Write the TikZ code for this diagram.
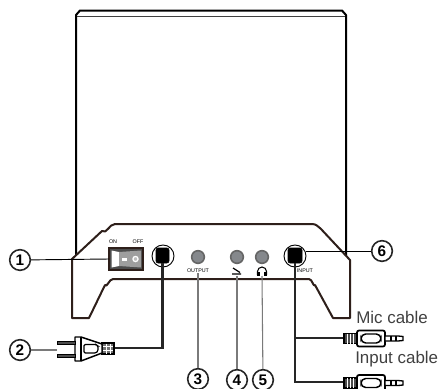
\documentclass[tikz,border=0pt]{standalone}
\usepackage{fontspec}
\setmainfont{Liberation Sans}
\usepackage{tikz}
\usetikzlibrary{calc}
\definecolor{basebrown}{HTML}{2E1F1A}
\definecolor{jackgray}{HTML}{85888C}
\definecolor{leadgray}{HTML}{7A7A7A}
\tikzset{
  callout/.style={draw=black!85,circle,line width=1.2pt,minimum size=15.5pt,inner sep=0pt,fill=white,font=\bfseries\fontsize{11.5}{12}\selectfont},
  lead/.style={line width=.8pt,leadgray},
  leadblack/.style={line width=.7pt,black},
  jack/.style={circle,draw=black!60,fill=jackgray,line width=1.2pt,minimum size=9.5pt,inner sep=0pt},
  socket/.style={circle,draw=black,fill=white,line width=.7pt,minimum size=16.5pt,inner sep=0pt},
  tiny/.style={inner sep=0pt,font=\fontsize{4}{4}\selectfont},
  cable/.style={line width=2pt,black!85},
  basedraw/.style={line width=1.5pt,basebrown},
  captiontext/.style={inner sep=0pt,anchor=west,black!75,font=\fontsize{12.7}{13}\selectfont}
}
\begin{document}
\begin{tikzpicture}[x=.75pt,y=-.75pt]
    \useasboundingbox (0,0) rectangle (439,389);
    % cabinet
    \draw[line width=1.5pt,line join=round] (76,257) -- (76,15) -- (80,10.5) -- (342,10.5) -- (346,15) -- (346,256);
    \draw[line width=.8pt,black!75] (77,16.5) -- (345,16.5);
    % base
    \draw[basedraw,line join=round,fill=white] (72,318) -- (72,259) -- (102,231) to[out=-40,in=180] (115,224) -- (312,224) to[out=0,in=140] (321,229) -- (350,260) -- (350,318) -- (333,318) -- (315,285) to[out=-115,in=0] (309,279) -- (113,279) to[out=180,in=-65] (105,285) -- (89,318) -- cycle;
    % switch
    \node[tiny] (on) at (113,242) {ON};
    \node[tiny] (off) at (138,242) {OFF};
    \draw[line width=1.5pt,basebrown,fill=black!70] (109,248) rectangle (143,270);
    \coordinate (swleft) at (109,259);
    \fill[white] (111.5,250.5) -- (119,252) -- (119,266) -- (111.5,267.5) -- cycle;
    \fill[black!38] (119,252) -- (141,250.5) -- (141,267.5) -- (119,266) -- cycle;
    \fill[white] (122,258) rectangle (127,260.5);
    \draw[white,line width=.9pt,fill=black!25] (135.5,259) circle[radius=2.6];
    % sockets
    \node[socket] (inlet) at (163,256) {};
    \draw[black,fill=black,rounded corners=1.5pt] (156,248) rectangle (169,263);
    \node[socket] (input) at (295,256) {};
    \draw[black,fill=black,rounded corners=1.5pt] (288,248) rectangle (302,263);
    % jacks
    \node[jack] (output) at (198,257) {};
    \node[jack] (mic) at (237,257) {};
    \node[jack] (phones) at (262,257) {};
    \node[tiny] (outputlabel) at (198,271) {OUTPUT};
    \node[tiny] (inputlabel) at (305,271) {INPUT};
    % mic and headphone signs
    \coordinate (micsign) at (237,276);
    \coordinate (phonesign) at (262,276);
    \draw[line width=.9pt,black] (233,268) -- (240,272.5) (232,274) -- (241,274);
    \draw[line width=.8pt,black] (257.5,275) -- (257.5,271.5) arc[start angle=180,end angle=360,radius=4.5] -- (266.5,275);
    \draw[line width=1.8pt,black] (258.5,272) -- (258.5,276) (265.5,272) -- (265.5,276);
    % power plug
    \coordinate (powerend) at (114,348);
    \draw[cable] (162.5,263) |- (powerend);
    \draw[line width=1.1pt,fill=black!55] (102,343) rectangle (114,354);
    \draw[line width=.5pt,white] (103,346.5) -- (113,346.5) (103,350) -- (113,350) (106,343.5) -- (106,353.5) (110,343.5) -- (110,353.5);
    \draw[line width=1.1pt,line join=round,fill=white] (75,337) -- (81,337) -- (102,344) -- (102,353) -- (81,361) -- (75,361) -- cycle;
    \draw[line width=.9pt] (81,337) -- (81,361);
    \draw[line width=.9pt,fill=white,rounded corners=1pt] (84,344.5) -- (96,344.5) -- (98,346) -- (98,351) -- (96,353) -- (84,353) -- cycle;
    \draw[line width=.6pt,fill=black!70] (57,341) rectangle (75,344.5);
    \draw[line width=.6pt,fill=black!70] (57,354) rectangle (75,357.5);
    \coordinate (prongs) at (57,350);
    % input cables
    \coordinate (micplug) at (344,338);
    \coordinate (inputplug) at (344,382);
    \draw[cable] (295,263) |- (inputplug);
    \draw[cable] (295,338) -- (micplug);
    \foreach \yy in {338.5,383}{
      \draw[line width=.9pt,fill=black!70] (344,\yy-5) rectangle (357,\yy+5);
      \foreach \xx in {347,350,353}
        \draw[white,line width=.4pt] (\xx,\yy-5) -- (\xx,\yy+5);
      \draw[line width=1.3pt,fill=white,rounded corners=1.5pt] (357,\yy-8) rectangle (385,\yy+8);
      \draw[line width=1.1pt,rounded corners=3.5pt] (361,\yy-4.5) rectangle (381,\yy+4.5);
      \draw[line width=1pt,fill=white] (385,\yy-2.5) -- (398,\yy-2.5) -- (403,\yy-2) -- (403,\yy+2) -- (398,\yy+2.5) -- (385,\yy+2.5) -- cycle;
      \draw[line width=1pt] (391,\yy-2.5) -- (391,\yy+2.5) (396,\yy-2.5) -- (396,\yy+2.5);
    }
    \node[captiontext] (miccaption) at (356,317) {Mic cable};
    \node[captiontext] (inputcaption) at (355,359.5) {Input cable};
    % callouts
    \node[callout] (n1) at (20,260) {1};
    \node[callout] (n2) at (20,350) {2};
    \node[callout] (n3) at (198,379) {3};
    \node[callout] (n4) at (237,380) {4};
    \node[callout] (n5) at (263,380) {5};
    \node[callout] (n6) at (382,251) {6};
    \draw[leadblack] (n1) -- (swleft);
    \draw[lead] (n2) -- (prongs);
    \draw[lead] (n3) -- (outputlabel);
    \draw[lead] (n4) -- (micsign);
    \draw[lead] (n5) -- (phonesign);
    \draw[leadblack] (n6) -- (input.east |- n6);
  \end{tikzpicture}
\end{document}
